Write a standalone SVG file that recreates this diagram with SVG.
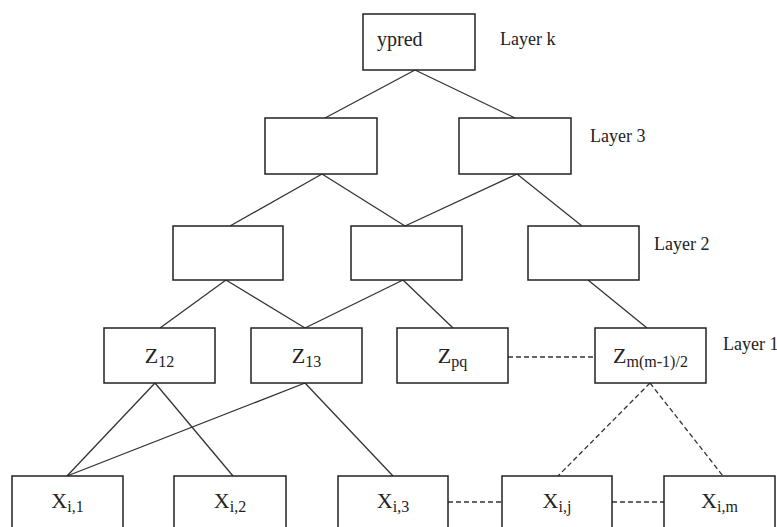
<svg xmlns="http://www.w3.org/2000/svg" width="777" height="527" viewBox="0 0 777 527">
<style>
.box{fill:#fff;stroke:#222;stroke-width:1.5}
.ln{stroke:#333;stroke-width:1.3;fill:none}
.dash{stroke:#333;stroke-width:1.3;fill:none;stroke-dasharray:5 3}
text{fill:#222;font-family:"Liberation Serif","Times New Roman",Times,serif}
.lbl{font-size:18px}
.yp{font-size:20px}
.big{font-size:22px}
.sub{font-size:16px}
</style>
<rect width="777" height="527" fill="#fff"/>
<g id="connectors">
<line class="ln" x1="415" y1="70" x2="325" y2="118"/>
<line class="ln" x1="415" y1="70" x2="515" y2="118"/>
<line class="ln" x1="322" y1="174" x2="230" y2="226"/>
<line class="ln" x1="322" y1="174" x2="405" y2="226"/>
<line class="ln" x1="517" y1="174" x2="405" y2="226"/>
<line class="ln" x1="517" y1="174" x2="582" y2="226"/>
<line class="ln" x1="226" y1="280" x2="160" y2="328"/>
<line class="ln" x1="226" y1="280" x2="305" y2="328"/>
<line class="ln" x1="403" y1="280" x2="305" y2="328"/>
<line class="ln" x1="403" y1="280" x2="453" y2="328"/>
<line class="ln" x1="588" y1="280" x2="647" y2="328"/>
<line class="ln" x1="155" y1="383" x2="67" y2="476"/>
<line class="ln" x1="155" y1="383" x2="233" y2="476"/>
<line class="ln" x1="305" y1="383" x2="67" y2="476"/>
<line class="ln" x1="305" y1="383" x2="393" y2="476"/>
<line class="dash" x1="650" y1="383" x2="558" y2="476"/>
<line class="dash" x1="650" y1="383" x2="723" y2="476"/>
<line class="dash" x1="508" y1="357" x2="595" y2="357"/>
<line class="dash" x1="448" y1="502" x2="502" y2="502"/>
<line class="dash" x1="612" y1="502" x2="664" y2="502"/>
</g>
<g id="ypred"><rect class="box" x="363" y="14" width="112" height="56"/><text class="yp" x="377" y="46">ypred</text></g>
<g id="layer-labels">
<text class="lbl" x="500" y="45">Layer k</text>
<text class="lbl" x="590" y="142">Layer 3</text>
<text class="lbl" x="654" y="250">Layer 2</text>
<text class="lbl" x="723" y="350">Layer 1</text>
</g>
<g id="l3a"><rect class="box" x="265" y="118" width="112" height="56"/></g>
<g id="l3b"><rect class="box" x="459" y="118" width="112" height="56"/></g>
<g id="l2a"><rect class="box" x="173" y="226" width="110" height="54"/></g>
<g id="l2b"><rect class="box" x="351" y="226" width="111" height="54"/></g>
<g id="l2c"><rect class="box" x="528" y="226" width="111" height="54"/></g>
<g id="z12"><rect class="box" x="104" y="328" width="111" height="55"/><text class="big" x="159.5" y="363" text-anchor="middle">Z<tspan class="sub" dy="4">12</tspan></text></g>
<g id="z13"><rect class="box" x="251" y="328" width="111" height="55"/><text class="big" x="306.5" y="363" text-anchor="middle">Z<tspan class="sub" dy="4">13</tspan></text></g>
<g id="zpq"><rect class="box" x="397" y="328" width="111" height="55"/><text class="big" x="452.5" y="363" text-anchor="middle">Z<tspan class="sub" dy="4">pq</tspan></text></g>
<g id="zm"><rect class="box" x="595" y="328" width="111" height="55"/><text class="big" x="650.5" y="363" text-anchor="middle">Z<tspan class="sub" dy="4">m(m-1)/2</tspan></text></g>
<g id="x1"><rect class="box" x="12" y="476" width="111" height="60"/><text class="big" x="67.5" y="508" text-anchor="middle">X<tspan class="sub" dy="4">i,1</tspan></text></g>
<g id="x2"><rect class="box" x="174" y="476" width="112" height="60"/><text class="big" x="230" y="508" text-anchor="middle">X<tspan class="sub" dy="4">i,2</tspan></text></g>
<g id="x3"><rect class="box" x="338" y="476" width="110" height="60"/><text class="big" x="393" y="508" text-anchor="middle">X<tspan class="sub" dy="4">i,3</tspan></text></g>
<g id="xj"><rect class="box" x="502" y="476" width="110" height="60"/><text class="big" x="557" y="508" text-anchor="middle">X<tspan class="sub" dy="4">i,j</tspan></text></g>
<g id="xm"><rect class="box" x="664" y="476" width="111" height="60"/><text class="big" x="719.5" y="508" text-anchor="middle">X<tspan class="sub" dy="4">i,m</tspan></text></g>
</svg>
